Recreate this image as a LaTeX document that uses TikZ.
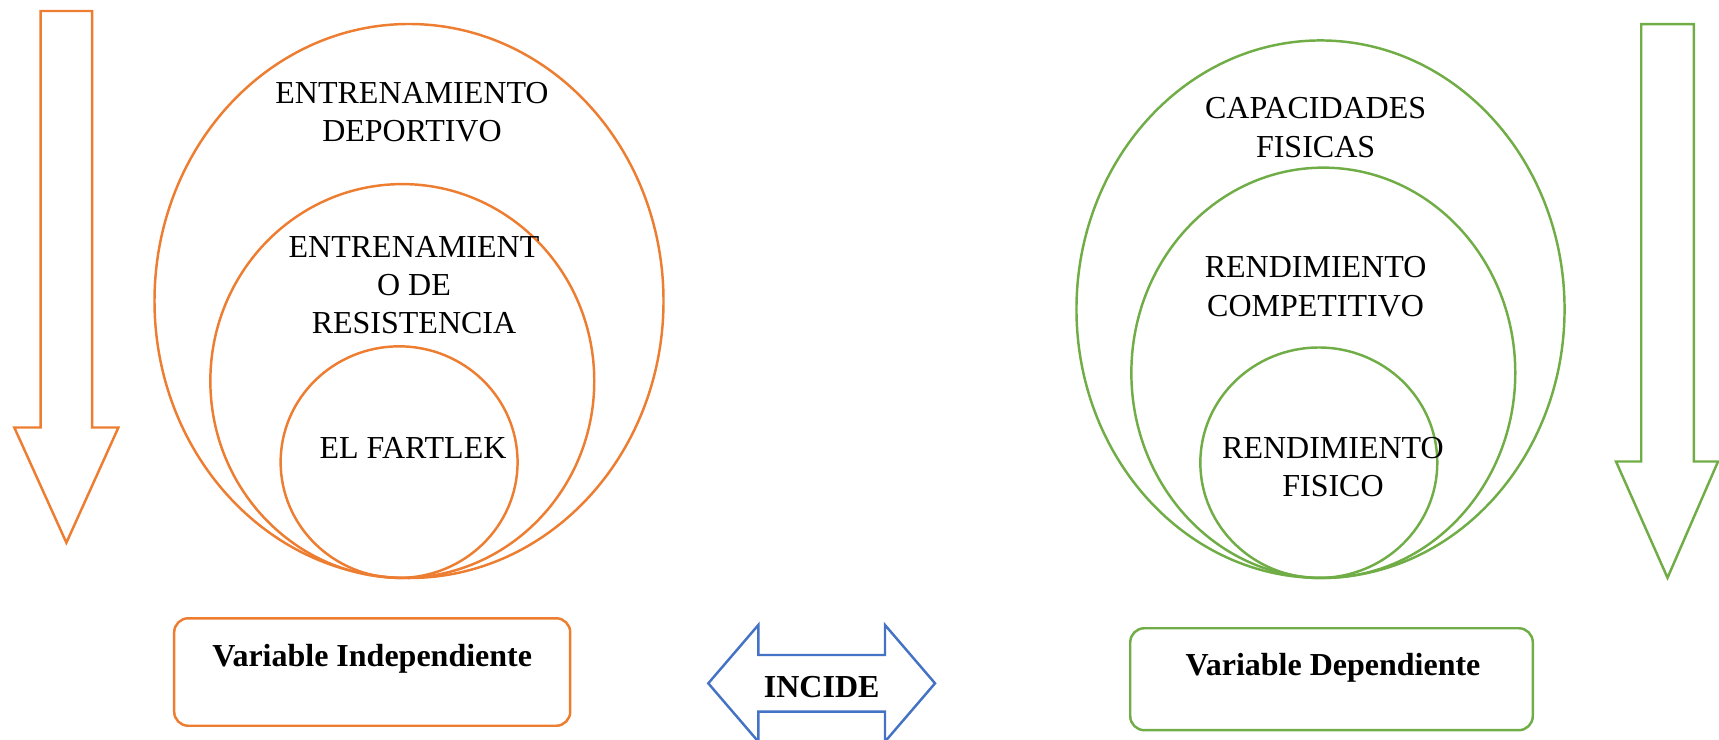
\documentclass[tikz,border=0pt]{standalone}
\usepackage{fontspec}
\setmainfont{Liberation Serif}
\usepackage{tikz}
\usetikzlibrary{shapes,positioning}
\definecolor{naranja}{HTML}{ED7D31}
\definecolor{verde}{HTML}{70AD47}
\definecolor{azul}{HTML}{4472C4}
\tikzset{circ/.style={ellipse,draw,line width=0.7pt,inner sep=0pt},
  lbl/.style={align=center,inner sep=0pt,font=\fontsize{9.1}{10.9}\selectfont},
  lblb/.style={inner sep=0pt,anchor=base,font=\fontsize{9.1}{10.9}\selectfont\bfseries},
  caja/.style={draw,rounded corners=4pt,line width=0.7pt,inner sep=0pt},
  flecha/.style={line width=0.7pt,line join=miter}}

\begin{document}
\begin{tikzpicture}[x=0.01cm,y=-0.01cm]
    \useasboundingbox (0,0) rectangle (1719,739);

    % variable independiente
    \draw[flecha,naranja] (40.6,11) -- (92.1,11) -- (92.1,427.5) -- (118.4,427.5)
      -- (66.4,542.7) -- (14.3,427.5) -- (40.6,427.5) -- cycle;
    \node (c1) [circ,naranja,minimum width=5.087cm,minimum height=5.537cm] at (409,301) {};
    \node (c2) [circ,naranja,minimum width=3.837cm,minimum height=3.936cm] at (402.3,381) {};
    \node (c3) [circ,naranja,minimum width=2.368cm,minimum height=2.314cm] at (399.1,462.1) {};
    \node (t1) [lbl] at (412,112) {ENTRENAMIENTO\\DEPORTIVO};
    \node (t2) [lbl] at (414,285) {ENTRENAMIENT\\O DE\\RESISTENCIA};
    \node (t3) [lbl,anchor=base] at (413,458.5) {EL FARTLEK};
    \node (vi) [caja,naranja,minimum width=3.958cm,minimum height=1.074cm] at (372.2,672) {};
    \node (vit) [lblb] at (372.2,666) {Variable Independiente};

    % incide
    \draw[flecha,azul] (708.3,683.3) -- (758.3,625) -- (758.3,655) -- (885,655) -- (885,625)
      -- (935,683.3) -- (885,741.6) -- (885,711.7) -- (758.3,711.7) -- (758.3,741.6) -- cycle;
    \node (inc) [lblb] at (821.7,697) {INCIDE};

    % variable dependiente
    \draw[flecha,verde] (1641.2,24.1) -- (1693.8,24.1) -- (1693.8,461.5) -- (1718,461.5)
      -- (1667.5,577.8) -- (1616,461.5) -- (1641.2,461.5) -- cycle;
    \node (d1) [circ,verde,minimum width=4.878cm,minimum height=5.372cm] at (1320.5,309.2) {};
    \node (d2) [circ,verde,minimum width=3.837cm,minimum height=4.101cm] at (1323.3,372.8) {};
    \node (d3) [circ,verde,minimum width=2.368cm,minimum height=2.303cm] at (1318.8,462.7) {};
    \node (s1) [lbl] at (1315.6,127.7) {CAPACIDADES\\FISICAS};
    \node (s2) [lbl] at (1315.6,286.7) {RENDIMIENTO\\COMPETITIVO};
    \node (s3) [lbl] at (1333,467) {RENDIMIENTO\\FISICO};
    \node (vd) [caja,verde,minimum width=4.023cm,minimum height=1.019cm] at (1331.5,679.2) {};
    \node (vdt) [lblb] at (1333,675) {Variable Dependiente};
\end{tikzpicture}
\end{document}
